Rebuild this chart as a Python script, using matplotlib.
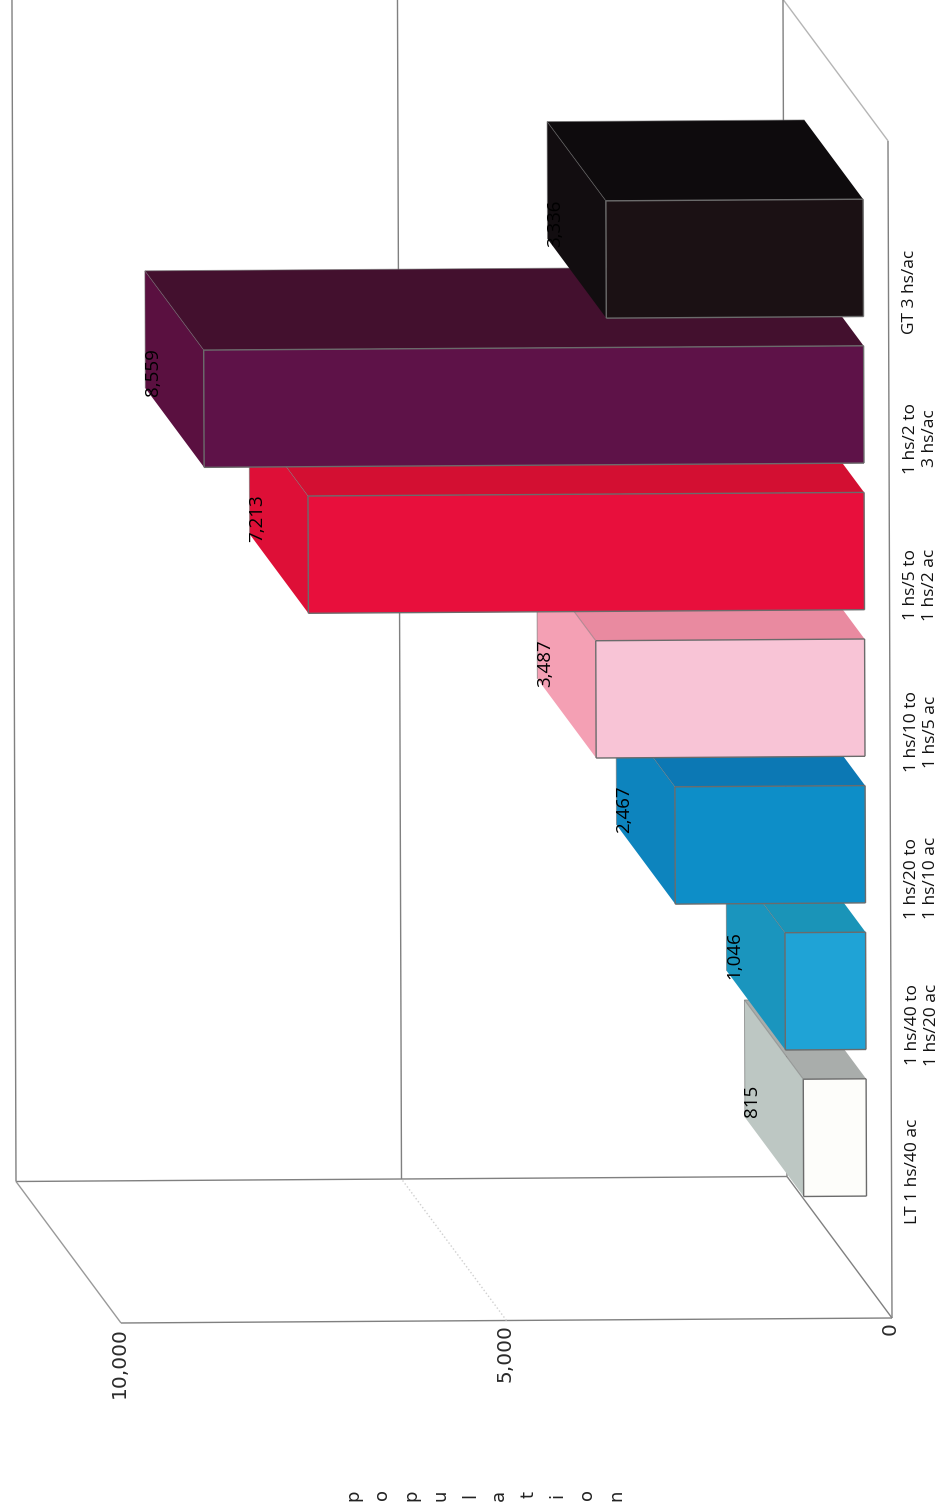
import numpy as np
import matplotlib
matplotlib.use("Agg")
import matplotlib.pyplot as plt
from matplotlib.patches import Polygon

categories = ["LT 1 hs/40 ac", "1 hs/40 to\n1 hs/20 ac", "1 hs/20 to\n1 hs/10 ac",
              "1 hs/10 to\n1 hs/5 ac", "1 hs/5 to\n1 hs/2 ac", "1 hs/2 to\n3 hs/ac", "GT 3 hs/ac"]
population = [815, 1046, 2467, 3487, 7213, 8559, 3336]
value_ticks = [0, 5000, 10000]
title_letters = list("population")

front_colors = ["#FDFDFA", "#1FA3D6", "#0D8EC8", "#F8C4D6", "#E80F3C", "#5E1248", "#1B1114"]
side_colors = ["#BDC7C3", "#1A95BE", "#0D84BE", "#F4A0B4", "#DE0F37", "#5A1040", "#120D10"]
upper_colors = ["#A9ADAB", "#1A94B8", "#0C78B4", "#E98AA0", "#D30F32", "#43102E", "#0E0B0D"]

BAR_HALF = 0.4
DEPTH_FRONT = 0.24
DEPTH_BACK = 0.80
CAT_MAX = 8.03
VAL_MAX = 10000
EDGE = "#6b6b6b"
AXIS = "#808080"


# oblique projection of (value, category slot, depth) on to the page, value axis runs right to left
def proj(v, c, d):
    x = 892 - 0.0771 * v - 105 * d - 0.5 * c
    y = 1318 + 0.0005 * v - 146.6 * c - 141.5 * d
    return x, y


def face(ax, corners, color, z):
    pts = [proj(*p) for p in corners]
    ax.add_patch(Polygon(pts, closed=True, facecolor=color, edgecolor="none", zorder=z))


def seg(ax, a, b, color=AXIS, lw=1.0, z=1, ls="-", alpha=1.0):
    xa, ya = proj(*a)
    xb, yb = proj(*b)
    ax.plot([xa, xb], [ya, yb], color=color, lw=lw, zorder=z, ls=ls, alpha=alpha, solid_capstyle="butt")


fig = plt.figure(figsize=(9.48, 15.12), dpi=100, facecolor="white")
ax = fig.add_axes([0, 0, 1, 1])
ax.set_xlim(0, 948)
ax.set_ylim(1512, 0)
ax.axis("off")

# walls and floor
seg(ax, (0, 0, 0), (0, CAT_MAX, 0))
seg(ax, (0, 0, 0), (VAL_MAX, 0, 0))
seg(ax, (0, 0, 1), (VAL_MAX, 0, 1))
seg(ax, (0, 0, 0), (0, 0, 1))
seg(ax, (VAL_MAX, 0, 0), (VAL_MAX, 0, 1), color="#999999")
seg(ax, (5000, 0, 0), (5000, 0, 1), color="#cfcfcf", ls=":")
seg(ax, (0, CAT_MAX, 0), (0, CAT_MAX, 1), color="#b5b5b5")
for v in value_ticks:
    seg(ax, (v, 0, 1), (v, CAT_MAX + 0.06, 1))

# bars, lowest slot first so the higher slots sit over them
for i, val in enumerate(population):
    c = i + 1
    lo, hi = c - BAR_HALF, c + BAR_HALF
    z = 3 + i
    face(ax, [(val, lo, DEPTH_FRONT), (val, hi, DEPTH_FRONT), (val, hi, DEPTH_BACK), (val, lo, DEPTH_BACK)],
         side_colors[i], z)
    face(ax, [(0, hi, DEPTH_FRONT), (val, hi, DEPTH_FRONT), (val, hi, DEPTH_BACK), (0, hi, DEPTH_BACK)],
         upper_colors[i], z)
    face(ax, [(0, lo, DEPTH_FRONT), (val, lo, DEPTH_FRONT), (val, hi, DEPTH_FRONT), (0, hi, DEPTH_FRONT)],
         front_colors[i], z)
    rect = [(0, lo), (val, lo), (val, hi), (0, hi), (0, lo)]
    for a, b in zip(rect[:-1], rect[1:]):
        seg(ax, (a[0], a[1], DEPTH_FRONT), (b[0], b[1], DEPTH_FRONT), color=EDGE, z=z)
    # fainter lines on the receding edges
    seg(ax, (val, hi, DEPTH_FRONT), (val, hi, DEPTH_BACK), color=EDGE, lw=0.7, z=z, alpha=0.5)
    seg(ax, (val, lo, DEPTH_BACK), (val, hi, DEPTH_BACK), color=EDGE, lw=0.7, z=z, alpha=0.6)
    seg(ax, (0, hi, DEPTH_BACK), (val, hi, DEPTH_BACK), color=EDGE, lw=0.7, z=z, alpha=0.6)

    # value label just past the back corner of the bar
    lx, ly = proj(val, hi, DEPTH_FRONT)
    ax.text(lx - 51, ly + 22, f"{val:,}", rotation=90, ha="center", va="center",
            fontsize=13.5, family="Open Sans", color="black", zorder=20)

    tx, ty = proj(0, c, 0)
    ax.text(tx + 14, ty, categories[i], rotation=90, ha="left", va="center", multialignment="center",
            fontsize=12.5, family="Open Sans", color="#111111", linespacing=1.22, zorder=20)

# value axis ticks
for v in value_ticks:
    tx, ty = proj(v, 0, 0)
    ax.text(tx - 2, ty + 4, f"{v:,}", rotation=90, ha="center", va="top",
            fontsize=14.5, family="DejaVu Sans", color="#2a2a2a", zorder=20)

# axis title, one letter per step along the value direction
for x, ch in zip(np.linspace(353, 616, len(title_letters)), title_letters):
    ax.text(x, 1495, ch, rotation=90, ha="center", va="center",
            fontsize=13, family="DejaVu Sans", color="#222222", zorder=20)

fig.savefig("out.png", dpi=100, facecolor="white")
